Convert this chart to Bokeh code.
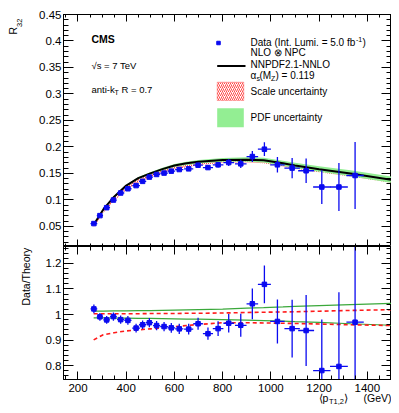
import numpy as np
from math import pi
from bokeh.plotting import figure
from bokeh.models import (Range1d, LinearAxis, FixedTicker, CustomJSTickFormatter,
                          Label, BoxAnnotation)
from bokeh.layouts import column
from bokeh.embed import file_html
from bokeh.resources import INLINE

FONT = "Liberation Sans"

# ---------------- data ----------------
pt = [266, 291, 319, 347, 377, 407, 441, 468, 496, 526, 557, 587, 620, 659,
      698, 739, 781, 825, 875, 923, 973, 1027, 1088, 1146, 1211, 1282, 1349]
pt_hw = [14, 13, 14, 14, 15, 15, 16, 15, 15, 15, 16, 16, 17, 19,
         20, 21, 22, 22, 24, 24, 27, 30, 32, 33, 36, 37, 36]
r32 = [0.0553, 0.0703, 0.0853, 0.0997, 0.113, 0.121, 0.127, 0.135, 0.143, 0.148,
       0.1506, 0.1543, 0.1573, 0.1586, 0.1655, 0.161, 0.1662, 0.1705, 0.168,
       0.1818, 0.1957, 0.1662, 0.160, 0.155, 0.1243, 0.1243, 0.146]
ratio = [1.022, 0.991, 0.979, 0.992, 0.980, 0.977, 0.947, 0.960, 0.968, 0.957,
         0.953, 0.948, 0.944, 0.943, 0.964, 0.925, 0.945, 0.966, 0.958, 1.042,
         1.118, 0.973, 0.945, 0.9375, 0.781, 0.797, 0.970]
ratio_err = [0.017, 0.015, 0.015, 0.016, 0.016, 0.017, 0.017, 0.017, 0.018, 0.018,
             0.018, 0.019, 0.020, 0.021, 0.023, 0.024, 0.029, 0.036, 0.045, 0.060,
             0.074, 0.086, 0.113, 0.139, 0.20, 0.29, 0.42]

th_pt = [265, 305, 350, 400, 450, 500, 550, 600, 650, 700, 800, 900, 970, 1050,
         1100, 1200, 1330, 1500]
theory = [0.053, 0.082, 0.106, 0.127, 0.141, 0.150, 0.158, 0.165, 0.169, 0.172,
          0.1755, 0.176, 0.175, 0.169, 0.165, 0.158, 0.150, 0.138]
pdf_hi = [1.013, 1.013, 1.014, 1.014, 1.015, 1.015, 1.016, 1.017, 1.018, 1.019,
          1.021, 1.025, 1.027, 1.030, 1.032, 1.035, 1.039, 1.044]
pdf_lo = [0.987, 0.987, 0.986, 0.986, 0.985, 0.985, 0.984, 0.983, 0.982, 0.982,
          0.980, 0.978, 0.976, 0.974, 0.972, 0.969, 0.964, 0.958]
scale_hi = [1.003, 1.003, 1.003, 1.003, 1.003, 1.004, 1.004, 1.004, 1.005, 1.005,
            1.006, 1.008, 1.009, 1.010, 1.011, 1.013, 1.016, 1.019]
scale_lo = [0.901, 0.921, 0.929, 0.936, 0.940, 0.944, 0.948, 0.953, 0.957, 0.961,
            0.968, 0.968, 0.967, 0.966, 0.965, 0.963, 0.960, 0.957]

x_major = [200, 400, 600, 800, 1000, 1200, 1400]
r32_major = [0.05, 0.1, 0.15, 0.2, 0.25, 0.3, 0.35, 0.4, 0.45]
ratio_major = [0.8, 0.9, 1.0, 1.1, 1.2]

X_RANGE = (140, 1500)
R32_RANGE = (0.012, 0.45)
RATIO_RANGE = (0.746, 1.266)

# ---------------- geometry (page pixels) ----------------
FL, FR = 63, 391
T_TOP, T_BOT = 14, 246
B_TOP, B_BOT = 246, 379
B_BORDER = 32
PAGE_H = B_BOT + B_BORDER

def px_x(px):
    return X_RANGE[0] + (px - FL) * (X_RANGE[1] - X_RANGE[0]) / (FR - FL)

def top_y(py):
    return R32_RANGE[1] - (py - T_TOP) * (R32_RANGE[1] - R32_RANGE[0]) / (T_BOT - T_TOP)

BLUE = "#0a0af0"
GREEN_FILL = "#93ee93"
GREEN_LINE = "#3aa83a"
RED = "#ff1a1a"

fmt_code = "return String(Math.round(tick*1000)/1000);"

def make_axis(ticks, minor, labels, major_len, minor_len, standoff=3):
    ax = LinearAxis(ticker=FixedTicker(ticks=ticks, minor_ticks=minor),
                    formatter=CustomJSTickFormatter(code=fmt_code))
    ax.major_tick_in = major_len
    ax.major_tick_out = 0
    ax.minor_tick_in = minor_len
    ax.minor_tick_out = 0
    ax.axis_line_color = "black"
    ax.major_tick_line_color = "black"
    ax.minor_tick_line_color = "black"
    ax.major_label_text_font = FONT
    if labels:
        ax.major_label_text_color = "black"
        ax.major_label_text_font_size = "11.5px"
        ax.major_label_standoff = standoff
    else:
        ax.major_label_text_color = None
        ax.major_label_text_font_size = "0px"
        ax.major_label_standoff = 0
    return ax

x_minor = list(np.arange(150, 1501, 50))
r32_minor = [round(v, 2) for v in np.arange(0.02, 0.451, 0.01)]
ratio_minor = [round(v, 2) for v in np.arange(0.76, 1.27, 0.02)]

def base_fig(yr, fh, top_border, bottom_border):
    p = figure(frame_width=FR - FL, frame_height=fh,
               x_range=Range1d(*X_RANGE), y_range=Range1d(*yr),
               output_backend="svg", toolbar_location=None,
               x_axis_location=None, y_axis_location=None,
               min_border_left=FL, min_border_right=0,
               min_border_top=top_border, min_border_bottom=bottom_border)
    p.xgrid.visible = False
    p.ygrid.visible = False
    p.outline_line_color = "black"
    p.outline_line_width = 1
    p.background_fill_color = "white"
    p.border_fill_color = "white"
    return p

def txt(p, x, y, s, size="10px", style="normal", align="left", angle=0,
        baseline="middle"):
    p.add_layout(Label(x=x, y=y, text=s, text_font=FONT,
                       text_font_size=size, text_font_style=style,
                       text_align=align, angle=angle,
                       text_baseline=baseline, text_color="black"))

# ---------------- top panel ----------------
top = base_fig(R32_RANGE, T_BOT - T_TOP, T_TOP, 0)
top.add_layout(make_axis(r32_major, r32_minor, True, 10, 5, 2), "left")
top.add_layout(make_axis(r32_major, r32_minor, False, 10, 5), "right")
top.add_layout(make_axis(x_major, x_minor, False, 7, 3), "above")
top.add_layout(make_axis(x_major, x_minor, False, 7, 3), "below")

th = np.array(theory)
top.varea(x=th_pt, y1=th * np.array(scale_lo), y2=th * np.array(scale_hi),
          fill_alpha=0, hatch_pattern="/", hatch_color=RED, hatch_scale=4,
          hatch_weight=1, hatch_alpha=0.8)
top.varea(x=th_pt, y1=th * np.array(pdf_lo), y2=th * np.array(pdf_hi),
          fill_color=GREEN_FILL, fill_alpha=1)
top.line(th_pt, theory, line_color="black", line_width=2)

pt_a = np.array(pt); hw = np.array(pt_hw)
r32_a = np.array(r32); ra = np.array(ratio); rae = np.array(ratio_err)
r32_err = r32_a * rae / ra

top.segment(x0=pt_a - hw, x1=pt_a + hw, y0=r32_a, y1=r32_a, line_color=BLUE, line_width=1.3)
top.segment(x0=pt_a, x1=pt_a, y0=r32_a - r32_err, y1=r32_a + r32_err, line_color=BLUE, line_width=1.3)
top.scatter(pt, r32, marker="square", size=4.5, color=BLUE)

# left annotations
txt(top, px_x(91), top_y(38), "CMS", "10.5px", "bold")
txt(top, px_x(91), top_y(65), "\u221as = 7 TeV", "9.5px")
txt(top, px_x(91), top_y(89), "anti-k", "9.5px")
txt(top, px_x(114), top_y(92), "T", "7px")
txt(top, px_x(121), top_y(89), "R = 0.7", "9.5px")

# legend
top.scatter([px_x(218)], [top_y(42.5)], marker="square", size=3.5, color=BLUE)
txt(top, px_x(250), top_y(42), "Data (Int. Lumi. = 5.0 fb", "10px")
txt(top, px_x(355.5), top_y(39), "-1", "7px")
txt(top, px_x(362), top_y(42), ")", "10px")
txt(top, px_x(250), top_y(52), "NLO \u2297 NPC", "10px")
top.segment(x0=[px_x(216.7)], x1=[px_x(245)], y0=[top_y(65.5)], y1=[top_y(65.5)],
            line_color="black", line_width=2)
txt(top, px_x(250), top_y(63.5), "NNPDF2.1-NNLO", "10px")
txt(top, px_x(250), top_y(74.5), "\u03b1", "10px")
txt(top, px_x(256), top_y(77.5), "s", "7px")
txt(top, px_x(259), top_y(74.5), "(M", "10px")
txt(top, px_x(270.5), top_y(77.5), "Z", "7px")
txt(top, px_x(275), top_y(74.5), ") = 0.119", "10px")
top.add_layout(BoxAnnotation(left=px_x(216.7), right=px_x(243.3), top=top_y(81.7), bottom=top_y(100),
                             fill_color=None, fill_alpha=0, line_color=RED, line_width=1,
                             hatch_pattern="/", hatch_color=RED, hatch_scale=4,
                             hatch_weight=1, hatch_alpha=0.8))
txt(top, px_x(250), top_y(90.5), "Scale uncertainty", "10px")
top.add_layout(BoxAnnotation(left=px_x(216.7), right=px_x(243.3), top=top_y(107.7), bottom=top_y(126.7),
                             fill_color=GREEN_FILL, fill_alpha=1, line_color=None))
txt(top, px_x(250), top_y(117), "PDF uncertainty", "10px")

# ---------------- bottom panel ----------------
bot = base_fig(RATIO_RANGE, B_BOT - B_TOP, 0, B_BORDER)
bot.add_layout(make_axis(ratio_major, ratio_minor, True, 10, 5, 2), "left")
bot.add_layout(make_axis(ratio_major, ratio_minor, False, 10, 5), "right")
bot.add_layout(make_axis(x_major, x_minor, False, 8, 4), "above")
bot.add_layout(make_axis(x_major, x_minor, True, 8, 4, 4), "below")

bot.line(th_pt, pdf_hi, line_color=GREEN_LINE, line_width=1.2)
bot.line(th_pt, pdf_lo, line_color=GREEN_LINE, line_width=1.2)
bot.line(th_pt, scale_hi, line_color=RED, line_width=1.6, line_dash="4 3")
bot.line(th_pt, scale_lo, line_color=RED, line_width=1.6, line_dash="4 3")

bot.segment(x0=pt_a - hw, x1=pt_a + hw, y0=ra, y1=ra, line_color=BLUE, line_width=1.3)
bot.segment(x0=pt_a, x1=pt_a, y0=ra - rae, y1=ra + rae, line_color=BLUE, line_width=1.3)
bot.scatter(pt, ratio, marker="square", size=4.5, color=BLUE)

# ---------------- transparent overlay for the axis titles ----------------
ov = figure(frame_width=FR, frame_height=PAGE_H,
            x_range=Range1d(0, FR), y_range=Range1d(PAGE_H, 0),
            output_backend="svg", toolbar_location=None,
            x_axis_location=None, y_axis_location=None,
            min_border=0, min_border_left=0, min_border_right=0,
            min_border_top=0, min_border_bottom=0,
            styles={"margin-top": f"-{PAGE_H}px"})
try:
    ov.frame_align = False
except Exception:
    pass
ov.xgrid.visible = False
ov.ygrid.visible = False
ov.outline_line_color = None
ov.background_fill_color = None
ov.border_fill_color = None

txt(ov, 12.5, 34, "R", "10.5px", angle=pi / 2)
txt(ov, 18.5, 26.5, "32", "7.5px", angle=pi / 2)
txt(ov, 25.5, 305, "Data/Theory", "10.5px", angle=pi / 2)
txt(ov, 318, 397, "\u27e8p", "10.5px")
txt(ov, 328.5, 400.5, "T1,2", "7.5px")
txt(ov, 343.5, 397, "\u27e9", "10.5px")
txt(ov, 391, 397, "(GeV)", "10.5px", align="right")

layout = column(top, bot, ov, spacing=0)
open("out.html", "w").write(file_html(layout, INLINE))
